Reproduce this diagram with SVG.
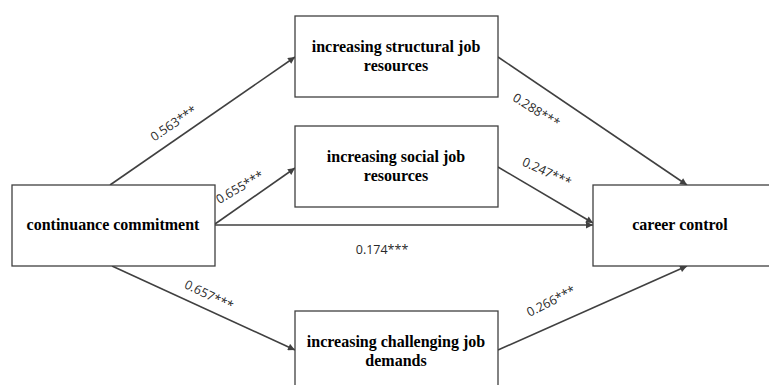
<svg xmlns="http://www.w3.org/2000/svg" width="769" height="385" viewBox="0 0 769 385">
  <style>
    .box { fill: #ffffff; stroke: #404040; stroke-width: 1.3; }
    .node-text { font-family: "Liberation Serif", "Times New Roman", serif; font-size: 16px; font-weight: bold; fill: #000; text-anchor: middle; }
    .edge { stroke: #404040; stroke-width: 1.6; fill: none; marker-end: url(#arrow); }
    .coef { font-family: "Open Sans", "DejaVu Sans", sans-serif; font-size: 12.5px; fill: #2a2a2a; text-anchor: middle; }
  </style>
  <defs>
    <marker id="arrow" viewBox="0 0 10 10" refX="10" refY="5" markerWidth="8" markerHeight="7" markerUnits="userSpaceOnUse" orient="auto">
      <path d="M0,0 L10,5 L0,10 z" fill="#404040"/>
    </marker>
  </defs>
  <rect width="769" height="385" fill="#ffffff"/>

  <!-- connectors -->
  <g id="connectors">
    <line class="edge" x1="110" y1="185" x2="295" y2="57"/>
    <line class="edge" x1="215" y1="224" x2="295" y2="168"/>
    <line class="edge" x1="215" y1="225" x2="593" y2="225"/>
    <line class="edge" x1="112" y1="266" x2="295" y2="350"/>
    <line class="edge" x1="498" y1="57" x2="687" y2="185"/>
    <line class="edge" x1="498" y1="167" x2="593" y2="223"/>
    <line class="edge" x1="498" y1="350" x2="687" y2="266"/>
  </g>

  <!-- path coefficients -->
  <g id="coefficients">
    <text class="coef" transform="translate(176,127) rotate(-34)">0.563***</text>
    <text class="coef" transform="translate(242,191) rotate(-30)">0.655***</text>
    <text class="coef" x="382" y="254">0.174***</text>
    <text class="coef" transform="translate(207,299) rotate(26)">0.657***</text>
    <text class="coef" transform="translate(534,114) rotate(32)">0.288***</text>
    <text class="coef" transform="translate(545,176) rotate(25)">0.247***</text>
    <text class="coef" transform="translate(553,305) rotate(-27)">0.266***</text>
  </g>

  <g id="continuance-commitment">
    <rect class="box" x="12" y="185" width="203" height="81"/>
    <text class="node-text" x="113" y="230">continuance commitment</text>
  </g>

  <g id="structural-resources">
    <rect class="box" x="295" y="16" width="203" height="81"/>
    <text class="node-text" x="396" y="52">increasing structural job</text>
    <text class="node-text" x="396" y="71">resources</text>
  </g>

  <g id="social-resources">
    <rect class="box" x="295" y="126" width="203" height="81"/>
    <text class="node-text" x="396" y="162">increasing social job</text>
    <text class="node-text" x="396" y="181">resources</text>
  </g>

  <g id="challenging-demands">
    <rect class="box" x="295" y="311" width="203" height="81"/>
    <text class="node-text" x="396" y="347">increasing challenging job</text>
    <text class="node-text" x="396" y="366">demands</text>
  </g>

  <g id="career-control">
    <rect class="box" x="593" y="185" width="203" height="81"/>
    <text class="node-text" x="680" y="230">career control</text>
  </g>
</svg>
